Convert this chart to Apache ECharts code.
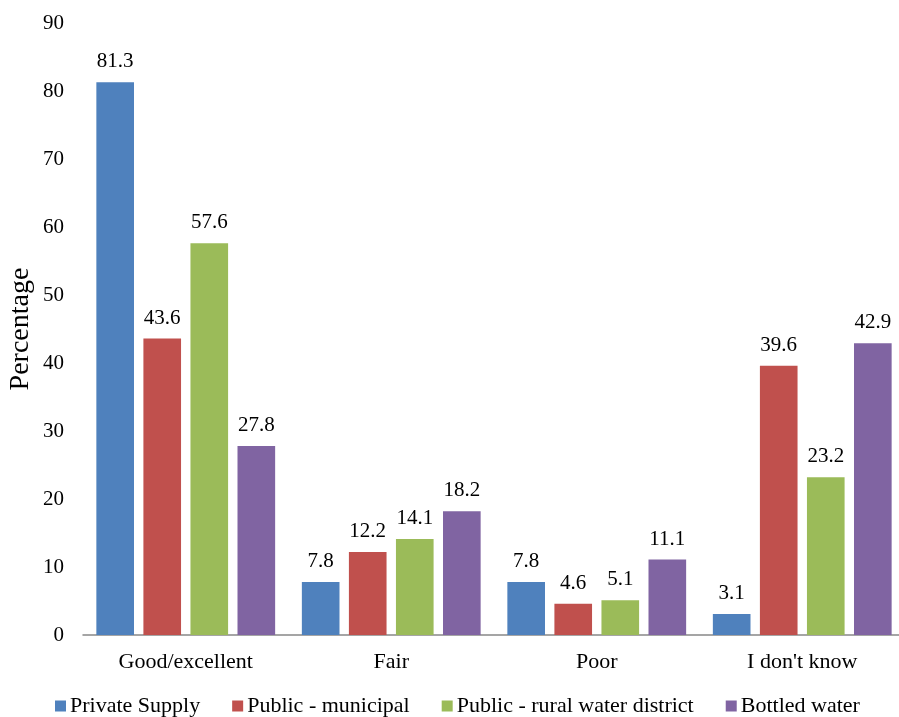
<!DOCTYPE html>
<html>
<head>
<meta charset="utf-8">
<script src="https://cdn.jsdelivr.net/npm/echarts@6/dist/echarts.min.js"></script>
<style>html,body{margin:0;padding:0;background:#fff}#c{width:899px;height:717px}</style>
</head>
<body>
<div id="c"></div>
<script>
const categories = ["Good/excellent", "Fair", "Poor", "I don't know"];
const seriesNames = ["Private Supply", "Public - municipal", "Public - rural water district", "Bottled water"];
const privateSupply = [81.3, 7.8, 7.8, 3.1];
const publicMunicipal = [43.6, 12.2, 4.6, 39.6];
const publicRural = [57.6, 14.1, 5.1, 23.2];
const bottledWater = [27.8, 18.2, 11.1, 42.9];
const colors = ["#4F81BD", "#C0504D", "#9BBB59", "#8064A2"];
const font = "Liberation Serif";

const chart = echarts.init(document.getElementById('c'));
const dataSets = [privateSupply, publicMunicipal, publicRural, bottledWater];
chart.setOption({
  animation: false,
  textStyle: {fontFamily: font},
  grid: {left: 83, width: 822, top: 23, bottom: 82, containLabel: false, outerBoundsMode: 'none'},
  legend: {
    top: 690, left: 50, itemWidth: 11, itemHeight: 11, itemGap: 32,
    icon: 'rect',
    textStyle: {fontFamily: font, fontSize: 22, color: '#000', padding: [0,0,0,-1]},
    data: seriesNames
  },
  xAxis: {
    type: 'category', data: categories,
    axisLine: {lineStyle: {color: '#888', width: 1.5}},
    axisTick: {show: false},
    axisLabel: {fontFamily: font, fontSize: 22, color: '#000', margin: 16}
  },
  yAxis: {
    type: 'value', min: 0, max: 90, interval: 10,
    name: 'Percentage', nameLocation: 'middle', nameGap: 48, nameMoveOverlap: false,
    nameTextStyle: {fontFamily: font, fontSize: 28, color: '#000'},
    axisLine: {show: false}, axisTick: {show: false}, splitLine: {show: false},
    axisLabel: {fontFamily: font, fontSize: 21, color: '#000', margin: 19}
  },
  series: seriesNames.map((n, i) => ({
    name: n, type: 'bar', data: dataSets[i],
    barGap: '25%', barCategoryGap: '13%',
    itemStyle: {color: colors[i]},
    label: {show: true, position: 'top', distance: 10, fontFamily: font, fontSize: 21, color: '#000'}
  }))
});
</script>
</body>
</html>
